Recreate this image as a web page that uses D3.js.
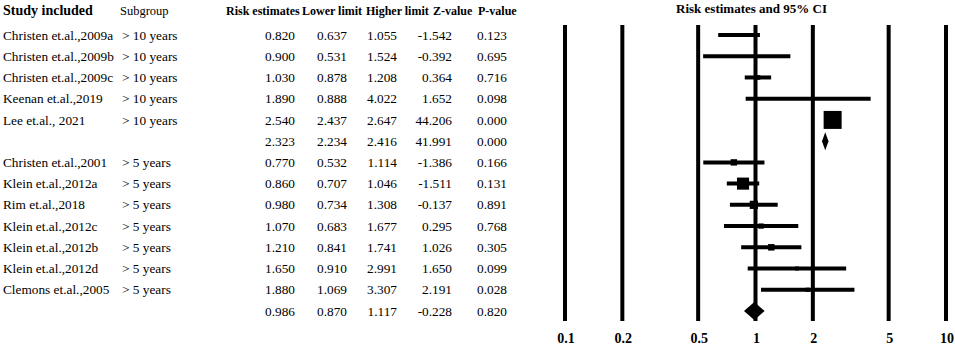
<!DOCTYPE html>
<html>
<head>
<meta charset="utf-8">
<script src="https://cdn.jsdelivr.net/npm/d3@7"></script>
<style>
  html, body { margin: 0; padding: 0; background: #fff; }
  svg { display: block; }
  text { font-family: 'Liberation Serif', 'DejaVu Serif', 'Times New Roman', Times, serif; fill: #000; }
  .cell { font-size: 13.3px; }
  .head { font-size: 12px; font-weight: bold; }
  .tick-label { font-size: 14px; font-weight: bold; }
</style>
</head>
<body>
<div id="chart"></div>
<script>
// Forest plot - risk estimates with 95% CI
var studies = ['Christen et.al.,2009a', 'Christen et.al.,2009b', 'Christen et.al.,2009c', 'Keenan et.al.,2019',
    'Lee et.al., 2021', '', 'Christen et.al.,2001', 'Klein et.al.,2012a', 'Rim et.al.,2018',
    'Klein et.al.,2012c', 'Klein et.al.,2012b', 'Klein et.al.,2012d', 'Clemons et.al.,2005', ''];
var subgroups = ['> 10 years', '> 10 years', '> 10 years', '> 10 years', '> 10 years', '',
    '> 5 years', '> 5 years', '> 5 years', '> 5 years', '> 5 years', '> 5 years', '> 5 years', ''];
var estimates = [0.820, 0.900, 1.030, 1.890, 2.540, 2.323, 0.770, 0.860, 0.980, 1.070, 1.210, 1.650, 1.880, 0.986];
var lowerLimits = [0.637, 0.531, 0.878, 0.888, 2.437, 2.234, 0.532, 0.707, 0.734, 0.683, 0.841, 0.910, 1.069, 0.870];
var upperLimits = [1.055, 1.524, 1.208, 4.022, 2.647, 2.416, 1.114, 1.046, 1.308, 1.677, 1.741, 2.991, 3.307, 1.117];
var zValues = [-1.542, -0.392, 0.364, 1.652, 44.206, 41.991, -1.386, -1.511, -0.137, 0.295, 1.026, 1.650, 2.191, -0.228];
var pValues = [0.123, 0.695, 0.716, 0.098, 0.000, 0.000, 0.166, 0.131, 0.891, 0.768, 0.305, 0.099, 0.028, 0.820];
// relative weight within subgroup (%), 0 for the pooled rows
var weights = [2.4, 0.6, 6.1, 0.3, 90.6, 0, 11.4, 40.8, 18.8, 7.8, 11.8, 4.4, 5.0, 0];
var isSummary = [false, false, false, false, false, true, false, false, false, false, false, false, false, true];
var tickValues = [0.1, 0.2, 0.5, 1, 2, 5, 10];

(function() {
    'use strict';

    var width = 955, height = 345;
    var fmt = d3.formatLocale({ decimal: '.', thousands: ',', grouping: [3], currency: ['', ''], minus: '-' }).format('.3f');

    var svg = d3.select('#chart').append('svg')
        .attr('width', width)
        .attr('height', height);

    var rows = d3.range(studies.length);
    var y = d3.scalePoint().domain(rows).range([35, 311]);
    var x = d3.scaleLog().domain([0.1, 10]).range([565, 946]);
    var size = d3.scaleSqrt().domain([0, 100]).range([0, 18.9]);

    // Table headers
    svg.append('text').attr('x', 3).attr('y', 15)
        .style('font-size', '14px').style('font-weight', 'bold').text('Study included');
    svg.append('text').attr('x', 120).attr('y', 14.5)
        .style('font-size', '12.5px').text('Subgroup');

    var cols = [
        { head: 'Risk estimates', hx: 226, right: 295, values: estimates },
        { head: 'Lower limit', hx: 302, right: 347, values: lowerLimits },
        { head: 'Higher limit', hx: 366, right: 397, values: upperLimits },
        { head: 'Z-value', hx: 433, right: 452, values: zValues },
        { head: 'P-value', hx: 478, right: 507, values: pValues }
    ];

    cols.forEach(function(c) {
        svg.append('text').attr('class', 'head')
            .attr('x', c.hx).attr('y', 14.5).text(c.head);
        svg.selectAll(null)
            .data(rows)
            .join('text')
            .attr('class', 'cell')
            .attr('x', c.right)
            .attr('y', function(i) { return y(i) + 4.6; })
            .attr('text-anchor', 'end')
            .text(function(i) { return fmt(c.values[i]); });
    });

    svg.selectAll('.study')
        .data(rows)
        .join('text')
        .attr('class', 'cell study')
        .attr('x', 3)
        .attr('y', function(i) { return y(i) + 4.6; })
        .text(function(i) { return studies[i]; });

    svg.selectAll('.subgroup')
        .data(rows)
        .join('text')
        .attr('class', 'cell subgroup')
        .attr('x', 122)
        .attr('y', function(i) { return y(i) + 4.6; })
        .text(function(i) { return subgroups[i]; });

    // Plot title
    svg.append('text')
        .attr('x', x(1) - 4).attr('y', 12.5)
        .attr('text-anchor', 'middle')
        .style('font-size', '13px').style('font-weight', 'bold')
        .text('Risk estimates  and 95% CI');

    // Reference lines + tick labels
    svg.selectAll('.ref')
        .data(tickValues)
        .join('line')
        .attr('class', 'ref')
        .attr('x1', function(d) { return x(d); })
        .attr('x2', function(d) { return x(d); })
        .attr('y1', 25)
        .attr('y2', 321)
        .attr('stroke', '#000')
        .attr('stroke-width', 4);

    svg.selectAll('.tick-label')
        .data(tickValues)
        .join('text')
        .attr('class', 'tick-label')
        .attr('x', function(d) { return x(d) + 1; })
        .attr('y', 343)
        .attr('text-anchor', 'middle')
        .text(function(d) { return d; });

    // Confidence intervals
    var studyRows = rows.filter(function(i) { return !isSummary[i]; });
    var sumRows = rows.filter(function(i) { return isSummary[i]; });

    svg.selectAll('.ci')
        .data(studyRows)
        .join('line')
        .attr('class', 'ci')
        .attr('x1', function(i) { return x(lowerLimits[i]); })
        .attr('x2', function(i) { return x(upperLimits[i]); })
        .attr('y1', function(i) { return y(i); })
        .attr('y2', function(i) { return y(i); })
        .attr('stroke', '#000')
        .attr('stroke-width', 4);

    svg.selectAll('.box')
        .data(studyRows)
        .join('rect')
        .attr('class', 'box')
        .attr('x', function(i) { return x(estimates[i]) - size(weights[i]) / 2; })
        .attr('y', function(i) { return y(i) - size(weights[i]) / 2; })
        .attr('width', function(i) { return size(weights[i]); })
        .attr('height', function(i) { return size(weights[i]); })
        .attr('fill', '#000');

    // Pooled diamonds
    svg.selectAll('.diamond')
        .data(sumRows)
        .join('path')
        .attr('class', 'diamond')
        .attr('d', function(i) {
            var cy = y(i), h = 9;
            return 'M' + x(lowerLimits[i]) + ',' + cy +
                'L' + x(estimates[i]) + ',' + (cy - h) +
                'L' + x(upperLimits[i]) + ',' + cy +
                'L' + x(estimates[i]) + ',' + (cy + h) + 'Z';
        })
        .attr('fill', '#000');
})();
</script>
</body>
</html>
